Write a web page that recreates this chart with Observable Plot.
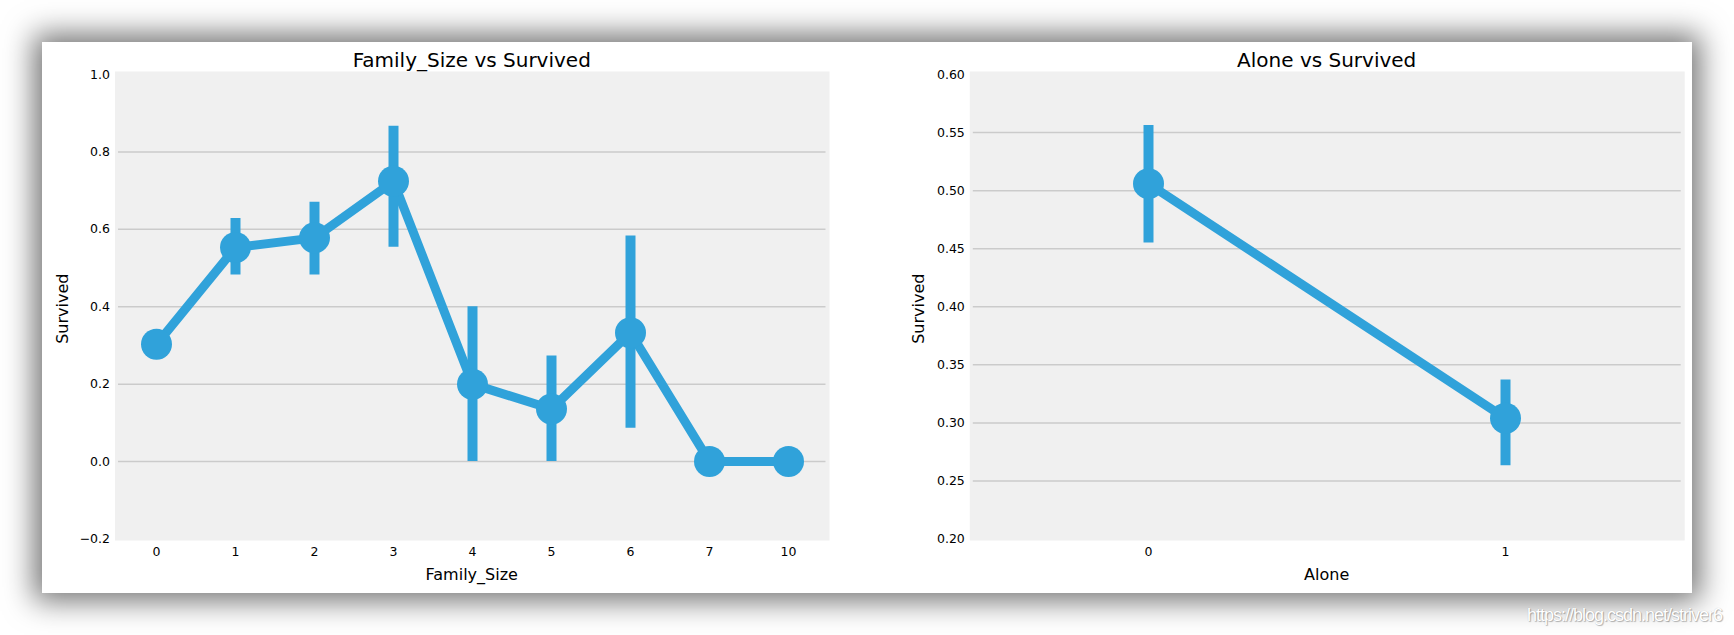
<!DOCTYPE html>
<html>
<head>
<meta charset="utf-8">
<script src="https://cdn.jsdelivr.net/npm/d3@7"></script>
<script src="https://cdn.jsdelivr.net/npm/@observablehq/plot@0.6"></script>
<style>
  html, body { margin: 0; padding: 0; background: #ffffff; overflow: hidden; }
  #page { position: relative; width: 1734px; height: 635px; background: #ffffff; }
  #panel { position: absolute; left: 42px; top: 42px; width: 1650px; height: 551px; background: #ffffff;
           box-shadow: 0 0 28px 8px rgba(0,0,0,0.55); }
  .chart { position: absolute; top: 42px; }
  #left { left: 42px; }
  #right { left: 867px; }
  #mark { position: absolute; left: 1527px; top: 606px; font-family: "Liberation Sans", Arial, sans-serif;
          font-size: 18px; line-height: 18px; letter-spacing: -1px; color: #ffffff;
          text-shadow: 1px 1px 1px rgba(0,0,0,0.28), 0 0 1px rgba(0,0,0,0.2); white-space: nowrap; }
</style>
</head>
<body>
<div id="page">
  <div id="panel"></div>
  <div id="left" class="chart"></div>
  <div id="right" class="chart"></div>
  <div id="mark">https://blog.csdn.net/striver6</div>
</div>
<script>
// ---- data ----
const familySizes    = [0, 1, 2, 3, 4, 5, 6, 7, 10];
const familySurvived = [0.303, 0.553, 0.578, 0.724, 0.200, 0.136, 0.333, 0.0, 0.0];
const familyLow      = [0.272, 0.482, 0.482, 0.554, 0.000, 0.000, 0.086, 0.0, 0.0];
const familyHigh     = [0.336, 0.628, 0.670, 0.866, 0.400, 0.273, 0.583, 0.0, 0.0];
const familyTicks    = [-0.2, 0.0, 0.2, 0.4, 0.6, 0.8, 1.0];

const aloneCats      = [0, 1];
const aloneSurvived  = [0.506, 0.304];
const aloneLow       = [0.455, 0.263];
const aloneHigh      = [0.556, 0.337];
const aloneTicks     = [0.20, 0.25, 0.30, 0.35, 0.40, 0.45, 0.50, 0.55, 0.60];

const BLUE = "#30a2da";
const FONT = "'DejaVu Sans', sans-serif";

function pointChart({cats, vals, lo, hi, ticks, fmt, width, marginLeft, marginRight, title, xLabel, titleX, yLabelX}) {
  const rows = cats.map((c, i) => ({c, v: vals[i], lo: lo[i], hi: hi[i]}));
  const svg = Plot.plot({
    width, height: 551,
    marginLeft, marginRight, marginTop: 29, marginBottom: 53,
    style: {fontFamily: FONT, fontSize: "12.5px", color: "#000", background: "transparent", overflow: "visible"},
    x: {type: "point", domain: cats, padding: 0.5, align: 0.5, label: null, tickSize: 0, tickPadding: 7},
    y: {domain: [ticks[0], ticks[ticks.length - 1]], insetTop: 3, insetBottom: 1.5, ticks, tickFormat: d3.format(fmt),
        tickSize: 0, tickPadding: 5, label: null},
    marks: [
      Plot.frame({fill: "#f0f0f0", stroke: "none"}),
      Plot.ruleY(ticks.slice(1, -1), {stroke: "#cbcbcb", strokeWidth: 1.5, insetLeft: 3.5, insetRight: 3.5}),
      Plot.line(rows, {x: "c", y: "v", stroke: BLUE, strokeWidth: 9, strokeLinejoin: "round"}),
      Plot.ruleX(rows.filter(d => d.hi > d.lo), {x: "c", y1: "lo", y2: "hi", stroke: BLUE, strokeWidth: 10}),
      Plot.dot(rows, {x: "c", y: "v", r: 15.5, fill: BLUE, stroke: "none"})
    ]
  });
  const s = d3.select(svg);
  s.append("text").attr("x", titleX).attr("y", 24.5).attr("text-anchor", "middle")
    .attr("font-family", FONT).attr("font-size", 20).attr("fill", "#000").text(title);
  s.append("text").attr("x", titleX).attr("y", 538).attr("text-anchor", "middle")
    .attr("font-family", FONT).attr("font-size", 16).attr("fill", "#000").text(xLabel);
  s.append("text").attr("transform", `translate(${yLabelX},266.7) rotate(-90)`).attr("text-anchor", "middle")
    .attr("font-family", FONT).attr("font-size", 16).attr("fill", "#000").text("Survived");
  return svg;
}

document.getElementById("left").appendChild(pointChart({
  cats: familySizes, vals: familySurvived, lo: familyLow, hi: familyHigh, ticks: familyTicks, fmt: ".1f",
  width: 825, marginLeft: 72.5, marginRight: 38,
  title: "Family_Size vs Survived", xLabel: "Family_Size", titleX: 429.75, yLabelX: 25.5
}));
document.getElementById("right").appendChild(pointChart({
  cats: aloneCats, vals: aloneSurvived, lo: aloneLow, hi: aloneHigh, ticks: aloneTicks, fmt: ".2f",
  width: 825, marginLeft: 102.3, marginRight: 7.8,
  title: "Alone vs Survived", xLabel: "Alone", titleX: 459.7, yLabelX: 57
}));
</script>
</body>
</html>
